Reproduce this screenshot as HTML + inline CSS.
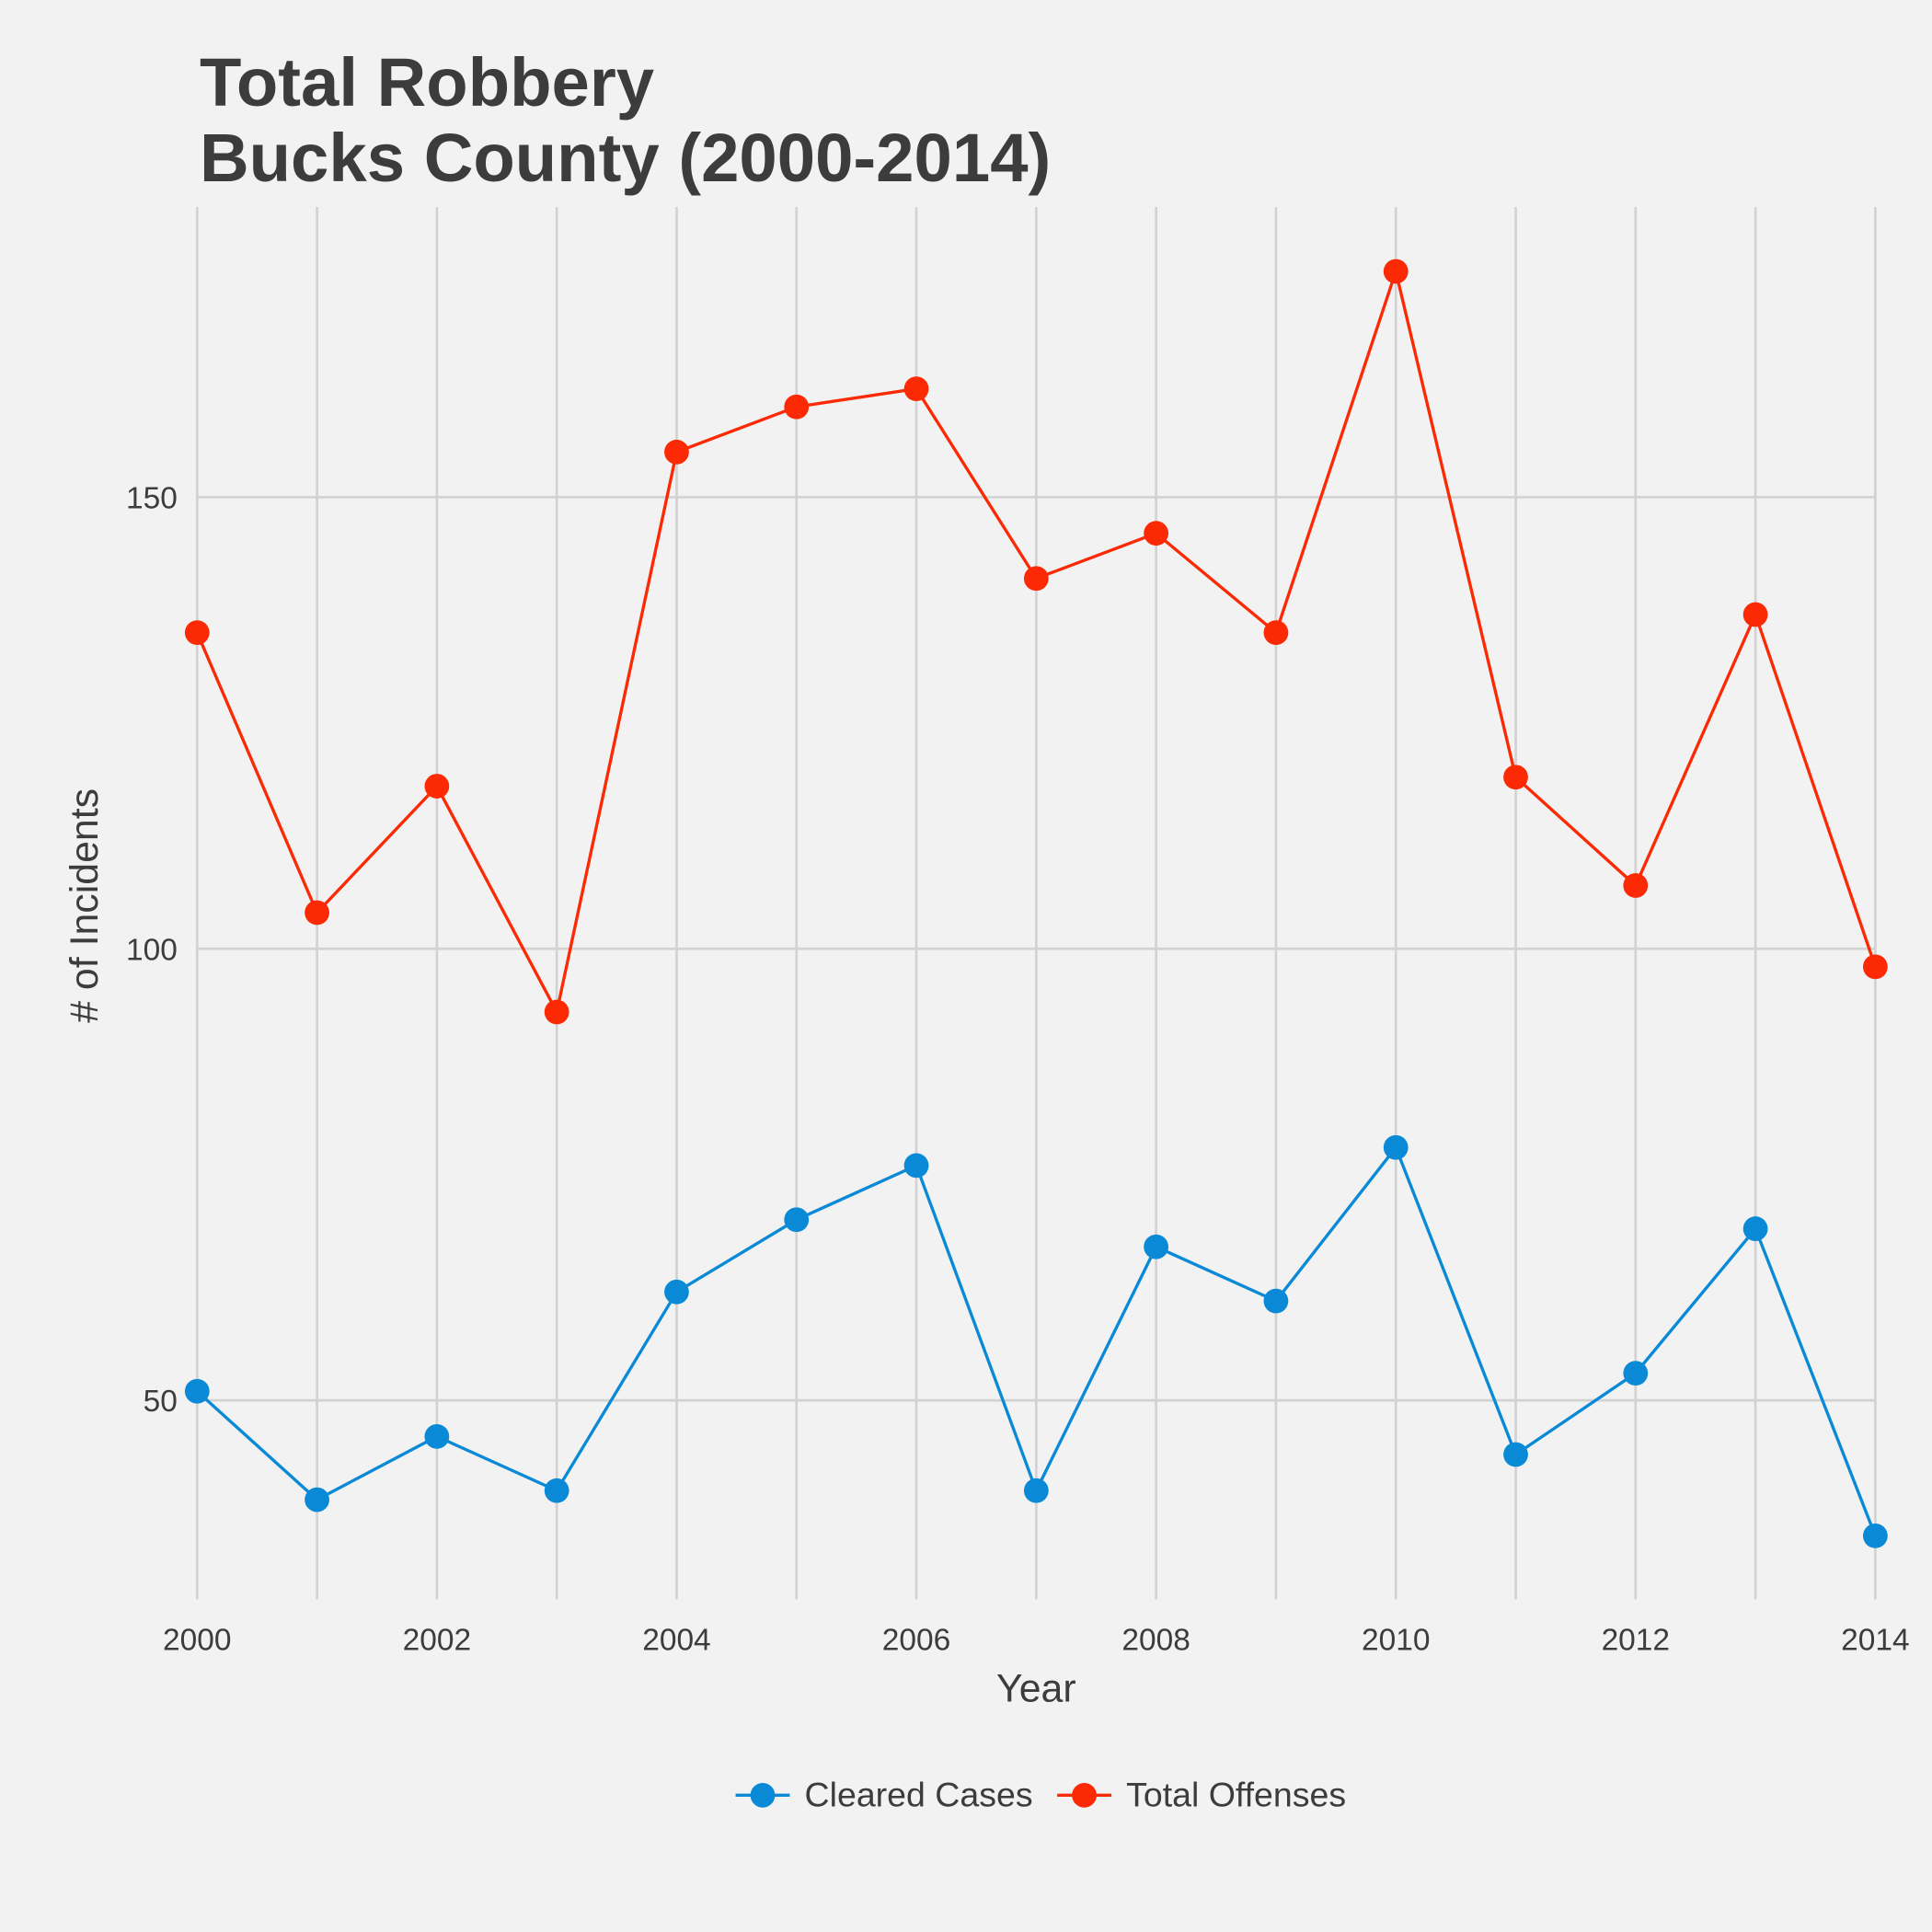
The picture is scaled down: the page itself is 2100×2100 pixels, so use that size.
<!DOCTYPE html>
<html><head><meta charset="utf-8"><style>
html,body{margin:0;padding:0;background:#f2f2f2;}
svg{display:block;}
text{font-family:"Liberation Sans",Arial,sans-serif;fill:#3c3c3c;}
</style></head><body>
<svg id="chart" width="2100" height="2100" viewBox="0 0 1568 1568" xmlns="http://www.w3.org/2000/svg">
<rect x="0" y="0" width="1568" height="1568" fill="#f2f2f2"/>
<text x="162" y="86" font-size="55.5" font-weight="bold">Total Robbery</text>
<text x="162" y="147" font-size="55.5" font-weight="bold">Bucks County (2000-2014)</text>
<g id="grid"></g>
<g id="series"></g>
<g id="axes"></g>
<text x="841" y="1381" font-size="32" text-anchor="middle">Year</text>
<text transform="translate(79,735) rotate(-90)" font-size="32" text-anchor="middle"># of Incidents</text>
<g>
  <g>
    <line x1="597" y1="1457" x2="641" y2="1457" stroke="#0a8ad6" stroke-width="2.5"/>
    <circle cx="619" cy="1457" r="10" fill="#0a8ad6"/>
    <text x="653" y="1466" font-size="28">Cleared Cases</text>
  </g>
  <g>
    <line x1="858" y1="1457" x2="902" y2="1457" stroke="#fb2a05" stroke-width="2.5"/>
    <circle cx="880" cy="1457" r="10" fill="#fb2a05"/>
    <text x="914" y="1466" font-size="28">Total Offenses</text>
  </g>
</g>
</svg>
<script>
const years = [2000,2001,2002,2003,2004,2005,2006,2007,2008,2009,2010,2011,2012,2013,2014];
const totalOffenses = [135,104,118,93,155,160,162,141,146,135,175,119,107,137,98];
const clearedCases = [51,39,46,40,62,70,76,40,67,61,78,44,53,69,35];
const yTicks = [50,100,150];
const xTickLabels = [2000,2002,2004,2006,2008,2010,2012,2014];

const NS = "http://www.w3.org/2000/svg";
const plotX0=160, plotX1=1522, plotTop=168, plotBottom=1298;
function xs(v){return plotX0+(v-2000)*(plotX1-plotX0)/14;}
function ys(v){return 770-(v-100)*(366.5/50);}
function mk(tag,attrs,parent){const e=document.createElementNS(NS,tag);for(const k in attrs)e.setAttribute(k,attrs[k]);parent.appendChild(e);return e;}
const gridG=document.getElementById('grid'), seriesG=document.getElementById('series'), axesG=document.getElementById('axes');
years.forEach(y=>{
  const l=mk('line',{x1:xs(y),x2:xs(y),y1:plotTop,y2:plotBottom,stroke:'#d2d2d2','stroke-width':2},gridG);
  
  
});
yTicks.forEach(v=>{
  const l=mk('line',{x1:plotX0,x2:plotX1,y1:ys(v),y2:ys(v),stroke:'#d2d2d2','stroke-width':2},gridG);
  
  
  const t=mk('text',{x:plotX0-16,y:ys(v)+9,'font-size':25,'text-anchor':'end'},axesG);
  t.textContent=v;
  
  
});
xTickLabels.forEach(v=>{
  const t=mk('text',{x:xs(v),y:1339,'font-size':25,'text-anchor':'middle'},axesG);
  t.textContent=v;
  
  
});
function draw(vals,color,name){
  const p=mk('polyline',{points:vals.map((v,i)=>xs(years[i])+','+ys(v)).join(' '),fill:'none',stroke:color,'stroke-width':2.5},seriesG);
  
  
  vals.forEach((v,i)=>{
    const c=mk('circle',{cx:xs(years[i]),cy:ys(v),r:10,fill:color},seriesG);
    
    
  });
}
draw(clearedCases,'#0a8ad6','cleared-cases');
draw(totalOffenses,'#fb2a05','total-offenses');
</script>
</body></html>
